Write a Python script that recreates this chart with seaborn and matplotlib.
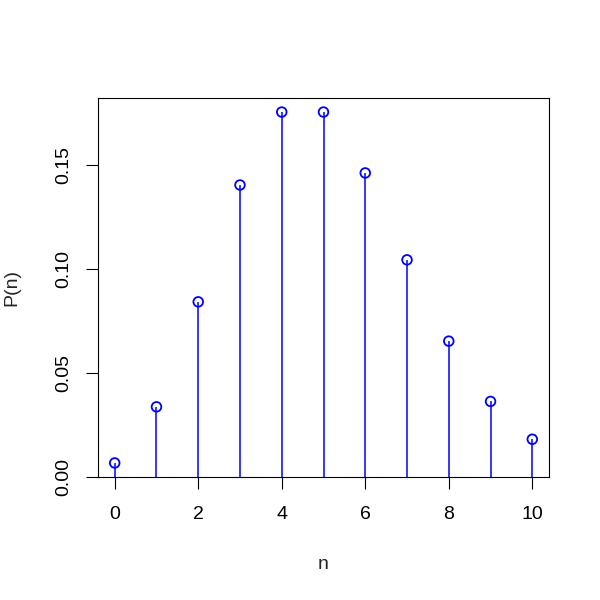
import numpy as np
import pandas as pd
import matplotlib
matplotlib.use("Agg")
import matplotlib.pyplot as plt
import seaborn as sns

# values
n = [0, 1, 2, 3, 4, 5, 6, 7, 8, 9, 10]
p = [0.0067, 0.0337, 0.0842, 0.1404, 0.1755, 0.1755, 0.1462, 0.1044, 0.0653, 0.0363, 0.0181]
x_ticks = [0, 2, 4, 6, 8, 10]
y_ticks = [0.00, 0.05, 0.10, 0.15]

df = pd.DataFrame({"n": n, "p": p})

sns.set_style("ticks")
plt.rcParams["font.family"] = ["Liberation Sans", "DejaVu Sans"]

fig = plt.figure(figsize=(6, 6), dpi=100)
ax = fig.add_axes([98 / 600, 1 - 477 / 600, 451 / 600, 379 / 600])

# stems
ax.vlines(df["n"], 0, df["p"], color="#0000FF", lw=1.1, zorder=2)
# open circles
sns.scatterplot(data=df, x="n", y="p", ax=ax, marker="o", s=48,
                facecolor="none", edgecolor="#0000FF", linewidth=1.3, zorder=3)

# R-style ranges: 4% padding around data
x_lo, x_hi = min(n), max(n)
dx = (x_hi - x_lo) * 0.04
ax.set_xlim(x_lo - dx, x_hi + dx)
y_lo, y_hi = min(p), max(p)
dy = (y_hi - y_lo) * 0.04
ax.set_ylim(y_lo - dy, y_hi + dy)

ax.set_xticks(x_ticks)
ax.set_xticklabels([str(t) for t in x_ticks])
ax.set_yticks(y_ticks)
ax.set_yticklabels([f"{t:.2f}" for t in y_ticks], rotation=90, va="center")

for side in ax.spines.values():
    side.set_visible(True)
    side.set_color("black")
    side.set_linewidth(0.8)

ax.tick_params(axis="both", direction="out", length=8.6, width=0.8,
               color="black", labelsize=14, labelcolor="black")
ax.tick_params(axis="x", pad=12)
ax.tick_params(axis="y", pad=10)

ax.set_xlabel("n", fontsize=14, labelpad=24)
ax.set_ylabel("P(n)", fontsize=14, labelpad=25)

fig.savefig("out.png", dpi=100)
